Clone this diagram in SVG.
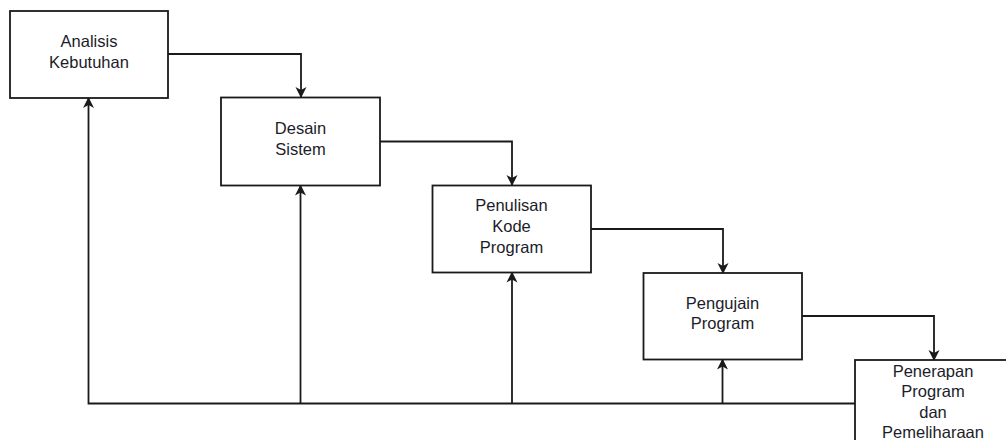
<svg xmlns="http://www.w3.org/2000/svg" width="1006" height="443" viewBox="0 0 1006 443">
  <style>
    .box { fill: #ffffff; stroke: #1a1a1a; stroke-width: 1.8; }
    .lbl { font-family: "Liberation Sans", Arial, sans-serif; font-size: 16.5px; fill: #1c1c2a; text-anchor: middle; }
    .edge { fill: none; stroke: #1a1a1a; stroke-width: 1.8; }
  </style>
  <defs>
    <marker id="arr" markerWidth="12" markerHeight="12" refX="10" refY="5.5" orient="auto" markerUnits="userSpaceOnUse" viewBox="0 0 12 11">
      <path d="M 0 0 L 11 5.5 L 0 11 L 3 5.5 Z" fill="#1a1a1a"/>
    </marker>
    <clipPath id="cut"><rect x="0" y="0" width="1006" height="440"/></clipPath>
  </defs>
  <rect x="0" y="0" width="1006" height="443" fill="#ffffff"/>

  <g id="connectors">
    <path class="edge" d="M 168 54 L 301 54 L 301 97" marker-end="url(#arr)"/>
    <path class="edge" d="M 380 141.5 L 512 141.5 L 512 185" marker-end="url(#arr)"/>
    <path class="edge" d="M 591 229 L 723 229 L 723 273" marker-end="url(#arr)"/>
    <path class="edge" d="M 802 316 L 934 316 L 934 360" marker-end="url(#arr)"/>
    <path class="edge" d="M 855 403.5 L 88.5 403.5 L 88.5 98" marker-end="url(#arr)"/>
    <path class="edge" d="M 300.5 403.5 L 300.5 185.5" marker-end="url(#arr)"/>
    <path class="edge" d="M 512 403.5 L 512 272.5" marker-end="url(#arr)"/>
    <path class="edge" d="M 722.5 403.5 L 722.5 359.5" marker-end="url(#arr)"/>
  </g>

  <g id="node-analisis">
    <rect class="box" x="10" y="11" width="158" height="87"/>
    <text class="lbl" x="89" y="47">Analisis</text>
    <text class="lbl" x="89" y="68">Kebutuhan</text>
  </g>

  <g id="node-desain">
    <rect class="box" x="221" y="97.5" width="159" height="88"/>
    <text class="lbl" x="300.5" y="134">Desain</text>
    <text class="lbl" x="300.5" y="155">Sistem</text>
  </g>

  <g id="node-penulisan">
    <rect class="box" x="432.5" y="185.5" width="158.5" height="87"/>
    <text class="lbl" x="511.5" y="211">Penulisan</text>
    <text class="lbl" x="511.5" y="232">Kode</text>
    <text class="lbl" x="511.5" y="253">Program</text>
  </g>

  <g id="node-pengujian">
    <rect class="box" x="643.5" y="273" width="158.5" height="86.5"/>
    <text class="lbl" x="722.5" y="309">Pengujain</text>
    <text class="lbl" x="722.5" y="329">Program</text>
  </g>

  <g id="node-penerapan">
    <rect class="box" x="855" y="360" width="158" height="100" clip-path="url(#cut)"/>
    <text class="lbl" x="933" y="377">Penerapan</text>
    <text class="lbl" x="933" y="397">Program</text>
    <text class="lbl" x="933" y="418">dan</text>
    <text class="lbl" x="933" y="438">Pemeliharaan</text>
  </g>
</svg>
